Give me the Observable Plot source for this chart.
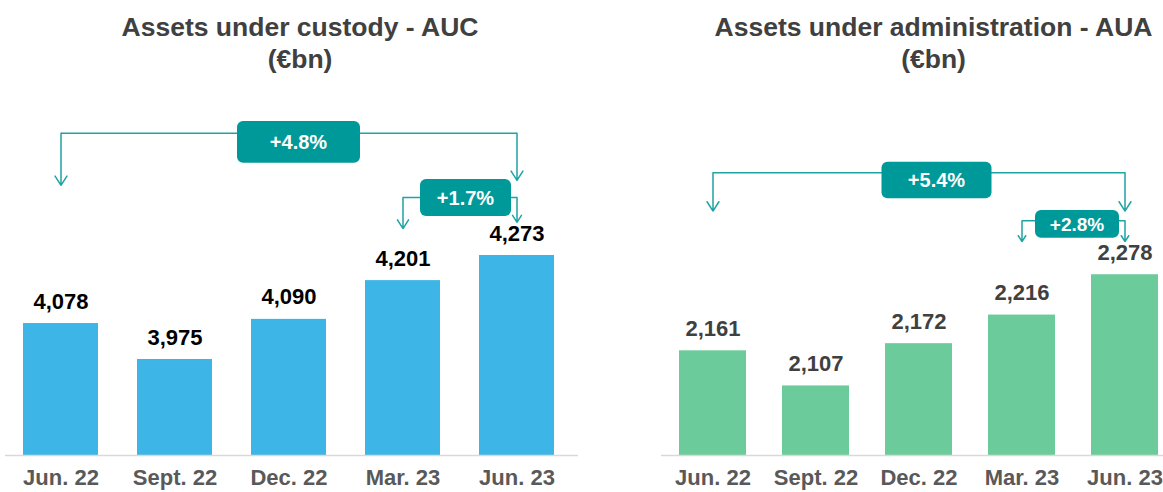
<!DOCTYPE html>
<html><head><meta charset="utf-8">
<script src="https://cdn.jsdelivr.net/npm/d3@7"></script>
<script src="https://cdn.jsdelivr.net/npm/@observablehq/plot@0.6"></script>
<style>
html,body{margin:0;padding:0;background:#fff;}
#wrap{display:flex;width:1163px;height:492px;overflow:hidden;}
#wrap svg{display:block;flex:none;}
</style></head><body><div id="wrap"></div>
<script>
// ---- data ----
const periods = ["Jun. 22", "Sept. 22", "Dec. 22", "Mar. 23", "Jun. 23"];
const aucValues = [4078, 3975, 4090, 4201, 4273];
const auaValues = [2161, 2107, 2172, 2216, 2278];
const aucTitle = "Assets under custody - AUC\n(€bn)";
const auaTitle = "Assets under administration - AUA\n(€bn)";
const aucChangeLabels = ["+4.8%", "+1.7%"];
const auaChangeLabels = ["+5.4%", "+2.8%"];
const changeFrom = ["Jun. 22", "Mar. 23"];
const changeTo = ["Jun. 23", "Jun. 23"];

const TEAL = "#009999";
const FONT = "'Liberation Sans', Arial, sans-serif";
const fmt = d3.format(",");

function panel(cfg) {
  const data = periods.map((p, i) => ({period: p, value: cfg.values[i]}));
  const base = cfg.domain[0];
  const changes = cfg.labels.map((label, i) => ({label, from: changeFrom[i], to: changeTo[i], ...cfg.layout[i]}));
  const arrows = changes.flatMap(c => [
    {x: c.from, y1: c.level, y2: c.tipFrom},
    {x: c.to, y1: c.level, y2: c.tipTo}
  ]);
  const boxes = (index, scales) => {
    const x = scales.x, y = scales.y;
    const bw = x.bandwidth ? x.bandwidth() : 0;
    const g = d3.create("svg:g");
    for (const c of changes) {
      const cx = (x(c.from) + x(c.to)) / 2 + bw / 2 + c.dx;
      const top = y(c.boxTop), bottom = y(c.boxBottom);
      g.append("rect").attr("x", cx - c.w / 2).attr("y", top)
        .attr("width", c.w).attr("height", bottom - top).attr("rx", 6).attr("fill", TEAL);
      g.append("text").attr("x", cx).attr("y", (top + bottom) / 2).attr("dy", "0.36em")
        .attr("text-anchor", "middle").attr("fill", "#fff").attr("font-weight", "bold")
        .attr("font-family", FONT).attr("font-size", c.fs).text(c.label);
    }
    return g.node();
  };
  return Plot.plot({
    width: cfg.width, height: 492,
    marginTop: 100, marginBottom: 37, marginLeft: cfg.marginLeft, marginRight: cfg.marginRight,
    style: {fontFamily: FONT, background: "#fff", overflow: "visible"},
    x: {domain: periods, paddingInner: cfg.pi, paddingOuter: cfg.po, align: cfg.align, label: null, axis: null},
    y: {domain: cfg.domain, axis: null},
    marks: [
      Plot.barY(data, {x: "period", y1: () => base, y2: "value", fill: cfg.color}),
      Plot.ruleY([base], {stroke: "#D9D9D9", strokeWidth: 1.5}),
      Plot.text(data, {x: "period", y: "value", text: d => fmt(d.value), dy: -22,
        fontSize: 22, fontWeight: "bold", fill: cfg.labelColor}),
      Plot.axisX({tickSize: 0, tickPadding: 14, fontSize: 22, fontWeight: "bold", fill: "#595959", label: null}),
      Plot.link(changes, {x1: "from", x2: "to", y1: "level", y2: "level", stroke: "#1FA3A3", strokeWidth: 1.5}),
      Plot.arrow(arrows, {x: "x", y1: "y1", y2: "y2", stroke: "#1FA3A3", strokeWidth: 1.5, headLength: 11, headAngle: 65}),
      boxes,
      Plot.text([cfg.title], {frameAnchor: "top", lineAnchor: "top", dy: -87, dx: cfg.titleDx,
        fontSize: 26.5, fontWeight: "bold", fill: "#404040", lineHeight: 1.2})
    ]
  });
}

const wrap = document.getElementById("wrap");
wrap.append(panel({
  width: 580, marginLeft: 5, marginRight: 2, pi: 0.341, po: 0.177, align: 0.43,
  values: aucValues, color: "#3DB5E6", labelColor: "#000", domain: [3700, 4717],
  title: aucTitle, titleDx: 8, labels: aucChangeLabels,
  layout: [
    {level: 4623, tipFrom: 4474, tipTo: 4488, boxTop: 4657, boxBottom: 4537, w: 123, dx: 10, fs: 20},
    {level: 4439, tipFrom: 4350, tipTo: 4368, boxTop: 4491, boxBottom: 4385, w: 91, dx: 6, fs: 20}
  ]
}));
wrap.append(panel({
  width: 583, marginLeft: 81, marginRight: 0, pi: 0.351, po: 0.1055, align: 0.78,
  values: auaValues, color: "#6CCB9A", labelColor: "#404040", domain: [2000, 2546],
  title: auaTitle, titleDx: 21, labels: auaChangeLabels,
  layout: [
    {level: 2435, tipFrom: 2376, tipTo: 2376, boxTop: 2451, boxBottom: 2395, w: 110, dx: 18, fs: 20},
    {level: 2361, tipFrom: 2329, tipTo: 2329, boxTop: 2377, boxBottom: 2334, w: 84, dx: 4, fs: 19}
  ]
}));
</script></body></html>
